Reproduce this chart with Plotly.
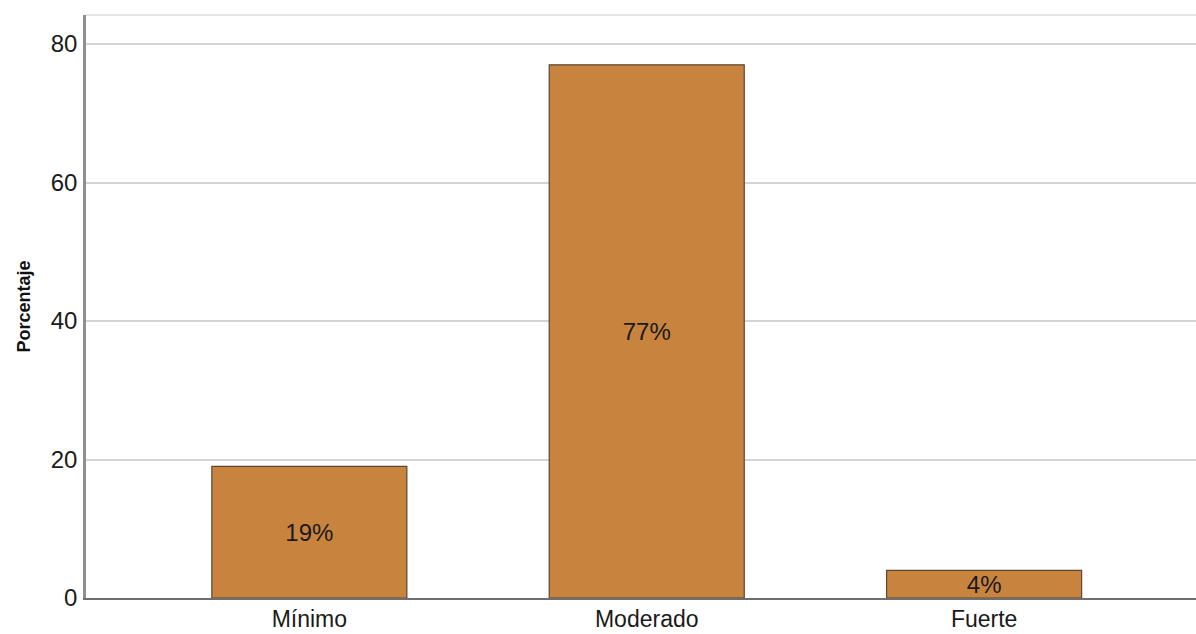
import plotly.graph_objects as go

categories = ["Mínimo", "Moderado", "Fuerte"]
values = [19, 77, 4]
labels = ["19%", "77%", "4%"]
y_ticks = [0, 20, 40, 60, 80]

FONT = "Liberation Sans, Arial, sans-serif"

fig = go.Figure()
fig.add_trace(go.Bar(
    x=categories, y=values, text=labels,
    textposition="inside", insidetextanchor="middle", constraintext="none",
    textfont=dict(family=FONT, size=24, color="#1a1a1a"),
    marker=dict(color="#C8843F", line=dict(color="#5a4632", width=1.2)),
    width=0.578, cliponaxis=False,
))

fig.update_layout(
    width=1196, height=634,
    margin=dict(l=86, r=0, t=15, b=36),
    paper_bgcolor="white", plot_bgcolor="white",
    showlegend=False,
    font=dict(family=FONT, size=24, color="#1a1a1a"),
    uniformtext=dict(mode=False),
)
fig.update_xaxes(
    type="category", range=[-0.662, 2.628], automargin=False,
    showgrid=False, showline=True, linecolor="#6e6e6e", linewidth=1.5,
    ticks="", tickfont=dict(size=23), ticklabelstandoff=0,
)
fig.update_yaxes(
    range=[0, 84.2], tickvals=y_ticks, automargin=False,
    showgrid=True, gridcolor="#d4d4d4", gridwidth=1.5,
    showline=True, linecolor="#8f8f8f", linewidth=2.5,
    ticks="", tickfont=dict(size=24), zeroline=False, ticklabelstandoff=1,
    title=dict(text="<b>Porcentaje</b>", font=dict(size=18, color="#111111"), standoff=16),
)
fig.add_shape(type="line", xref="paper", yref="paper", x0=0, x1=1, y0=1, y1=1,
              line=dict(color="#dcdcdc", width=1.5))

fig.write_html(
    "out.html",
    config={"displayModeBar": False},
    post_script="document.body.style.margin='0';document.body.style.overflow='hidden';",
)
